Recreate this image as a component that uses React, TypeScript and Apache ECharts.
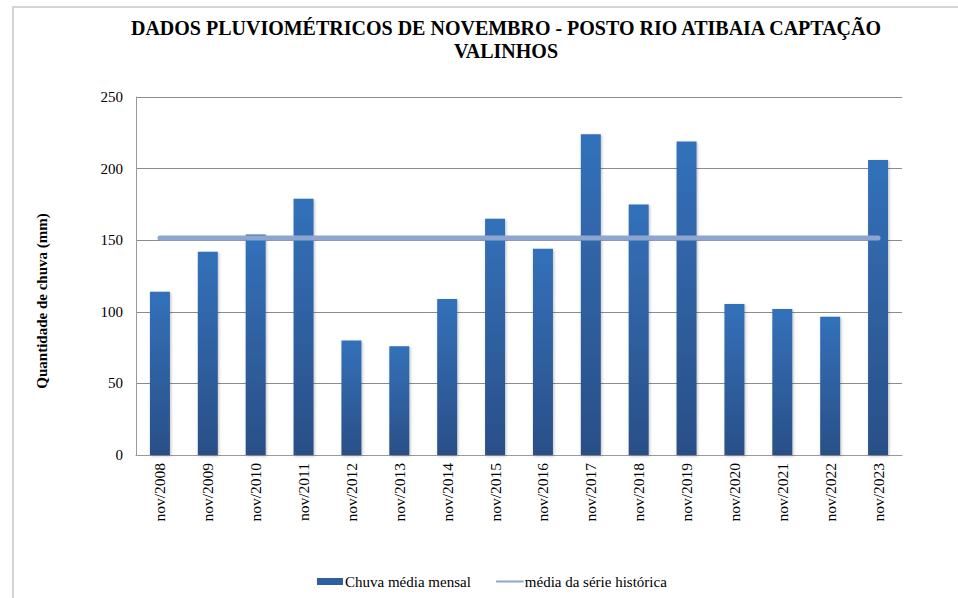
import React, { useEffect, useRef } from "react";
import * as echarts from "echarts";

const categories = [
  "nov/2008", "nov/2009", "nov/2010", "nov/2011", "nov/2012", "nov/2013", "nov/2014", "nov/2015",
  "nov/2016", "nov/2017", "nov/2018", "nov/2019", "nov/2020", "nov/2021", "nov/2022", "nov/2023",
];
const chuvaMensal = [114, 142, 154, 179, 80, 76, 109, 165, 144, 224, 175, 219, 105.5, 102, 96.5, 206];
const mediaHistorica = [151.5, 151.5, 151.5, 151.5, 151.5, 151.5, 151.5, 151.5, 151.5, 151.5, 151.5, 151.5, 151.5, 151.5, 151.5, 151.5];
const yTicks = { min: 0, max: 250, interval: 50 };

const FONT = "Liberation Serif";

export default function App() {
  const ref = useRef<HTMLDivElement>(null);
  useEffect(() => {
    if (!ref.current) return;
    const chart = echarts.init(ref.current, undefined, { renderer: "svg" });
    chart.setOption({
      animation: false,
      backgroundColor: "#ffffff",
      textStyle: { fontFamily: FONT, color: "#000" },
      title: {
        text: "DADOS PLUVIOMÉTRICOS DE NOVEMBRO - POSTO RIO ATIBAIA CAPTAÇÃO\nVALINHOS",
        left: 501,
        top: 11,
        textAlign: "center",
        textStyle: { fontFamily: FONT, fontSize: 20, fontWeight: "bold", color: "#000", lineHeight: 23 },
      },
      graphic: [
        {
          type: "rect",
          shape: { x: 13, y: 7, width: 1000, height: 700 },
          style: { fill: "none", stroke: "#c6c6c6", lineWidth: 1.5 },
          silent: true,
          z: -10,
        },
        {
          type: "text",
          x: 42,
          y: 301,
          rotation: Math.PI / 2,
          style: {
            text: "Quantidade de chuva (mm)",
            fontFamily: FONT,
            fontSize: 15,
            fontWeight: "bold",
            fill: "#000",
            align: "center",
            verticalAlign: "middle",
          },
          silent: true,
        },
      ],
      legend: {
        left: 312,
        top: 569,
        itemGap: 25,
        itemWidth: 26,
        itemHeight: 7,
        textStyle: { fontFamily: FONT, fontSize: 15, color: "#000", padding: [0, 0, 0, -3] },
        data: [
          { name: "Chuva média mensal", icon: "rect", itemStyle: { color: "#2f5e9e" } },
          { name: "média da série histórica", itemStyle: { color: "rgba(0,0,0,0)", borderWidth: 0 } },
        ],
      },
      grid: { left: 136, right: 56, top: 97, bottom: 143, containLabel: false },
      xAxis: {
        type: "category",
        data: categories,
        axisLine: { show: true, lineStyle: { color: "#9a9a9a", width: 1 } },
        axisTick: { show: false },
        axisLabel: { rotate: 90, fontFamily: FONT, fontSize: 15.5, color: "#000", margin: 8 },
      },
      yAxis: {
        type: "value",
        min: yTicks.min,
        max: yTicks.max,
        interval: yTicks.interval,
        axisLine: { show: true, lineStyle: { color: "#9a9a9a", width: 1 } },
        axisTick: { show: false },
        axisLabel: { fontFamily: FONT, fontSize: 15, color: "#000", margin: 13 },
        splitLine: { show: true, lineStyle: { color: "#8c8c8c", width: 1 } },
      },
      series: [
        {
          name: "Chuva média mensal",
          type: "bar",
          data: chuvaMensal,
          barWidth: 20,
          itemStyle: {
            color: new echarts.graphic.LinearGradient(0, 0, 0, 1, [
              { offset: 0, color: "#3371ba" },
              { offset: 1, color: "#2a4f87" },
            ]),
            shadowColor: "rgba(0,0,0,0.25)",
            shadowBlur: 3,
            shadowOffsetX: 1,
            shadowOffsetY: 1,
          },
          z: 2,
        },
        {
          name: "média da série histórica",
          type: "line",
          data: mediaHistorica,
          symbol: "none",
          lineStyle: { color: "#8ea6cf", width: 5, cap: "round" },
          itemStyle: { color: "#8ea6cf" },
          z: 3,
        },
      ],
    });
    return () => chart.dispose();
  }, []);
  return (
    <div
      ref={ref}
      style={{ position: "fixed", left: 0, top: 0, width: 958, height: 598 }}
    />
  );
}
